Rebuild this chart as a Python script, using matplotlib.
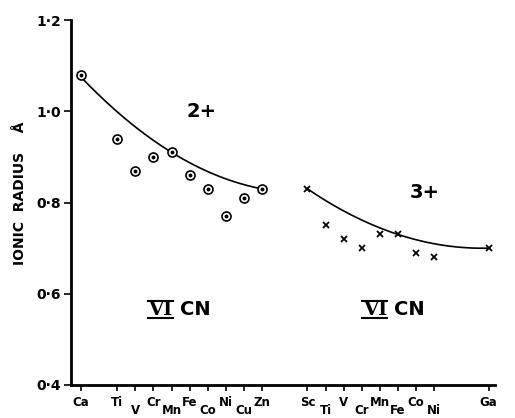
import numpy as np
import matplotlib
matplotlib.use("Agg")
import matplotlib.pyplot as plt

# data
div_labels = ["Ca", "Ti", "V", "Cr", "Mn", "Fe", "Co", "Ni", "Cu", "Zn"]
div_pos = [0, 2, 3, 4, 5, 6, 7, 8, 9, 10]
div_radius = [1.08, 0.94, 0.87, 0.90, 0.91, 0.86, 0.83, 0.77, 0.81, 0.83]

tri_labels = ["Sc", "Ti", "V", "Cr", "Mn", "Fe", "Co", "Ni", "Ga"]
tri_pos = [12.5, 13.5, 14.5, 15.5, 16.5, 17.5, 18.5, 19.5, 22.5]
tri_radius = [0.83, 0.75, 0.72, 0.70, 0.73, 0.73, 0.69, 0.68, 0.70]

# smooth trend curve anchors
div_curve_x = [0, 5, 10]
div_curve_y = [1.075, 0.91, 0.83]
tri_curve_x = [12.5, 17.5, 22.5]
tri_curve_y = [0.83, 0.73, 0.70]

# stagger of tick labels (0 = up, 1 = down)
div_stagger = [0, 0, 1, 0, 1, 0, 1, 0, 1, 0]
tri_stagger = [0, 1, 0, 1, 0, 1, 0, 1, 0]

yticks = [0.4, 0.6, 0.8, 1.0, 1.2]
ytick_labels = ["0·4", "0·6", "0·8", "1·0", "1·2"]

fig = plt.figure(figsize=(5.15, 4.18), dpi=100)
ax = fig.add_axes([0.1379, 0.079, 0.823, 0.873])
ax.set_xlim(-0.55, 22.85)
ax.set_ylim(0.4, 1.2)

for sp in ["top", "right"]:
    ax.spines[sp].set_visible(False)
ax.spines["left"].set_linewidth(2.0)
ax.spines["bottom"].set_linewidth(2.0)

# curves (quadratic through anchors)
for cx, cy in [(div_curve_x, div_curve_y), (tri_curve_x, tri_curve_y)]:
    p = np.polyfit(cx, cy, 2)
    xs = np.linspace(cx[0], cx[-1], 200)
    ax.plot(xs, np.polyval(p, xs), color="black", lw=1.2, zorder=2)

ax.plot(div_pos, div_radius, linestyle="none", marker="o", ms=6.5,
        mfc="white", mec="black", mew=1.2, zorder=3)
ax.plot(div_pos, div_radius, linestyle="none", marker="o", ms=1.8,
        mfc="black", mec="black", zorder=4)
ax.plot(tri_pos, tri_radius, linestyle="none", marker="x", ms=5,
        color="black", mew=1.3, zorder=3)

ax.set_yticks(yticks)
ax.set_yticklabels(ytick_labels, fontsize=10, fontweight="bold")
ax.tick_params(axis="y", direction="out", length=5, width=1.2, pad=2)

allpos = div_pos + tri_pos
ax.set_xticks(allpos)
ax.set_xticklabels([])
ax.tick_params(axis="x", direction="out", length=4, width=1.2)

for lab, p, s in list(zip(div_labels, div_pos, div_stagger)) + list(zip(tri_labels, tri_pos, tri_stagger)):
    yoff = -12.5 if s == 0 else -18.5
    ax.annotate(lab, xy=(p, 0.4), xycoords="data", xytext=(0, yoff),
                textcoords="offset points", ha="center", va="center",
                fontsize=8.5, fontweight="bold", annotation_clip=False)

ax.text(6.67, 1.0, "2+", fontsize=14, fontweight="bold", ha="center", va="center")
ax.text(19.0, 0.822, "3+", fontsize=14, fontweight="bold", ha="center", va="center")

for x0, x1, xc in [(3.69, 5.07, 5.45), (15.54, 16.92, 17.41)]:
    ax.text((x0 + x1) / 2, 0.565, "VI", fontsize=14, fontweight="bold",
            family="DejaVu Serif", ha="center", va="center")
    ax.plot([x0, x1], [0.585, 0.585], color="black", lw=1.5, clip_on=False)
    ax.plot([x0, x1], [0.546, 0.546], color="black", lw=1.5, clip_on=False)
    ax.text(x1 + 0.38, 0.565, "CN", fontsize=14, fontweight="bold", ha="left", va="center")

fig.text(0.039, 0.538, "IONIC  RADIUS    Å", rotation=90, fontsize=10,
         fontweight="bold", ha="center", va="center")

fig.savefig("out.png", dpi=100)
